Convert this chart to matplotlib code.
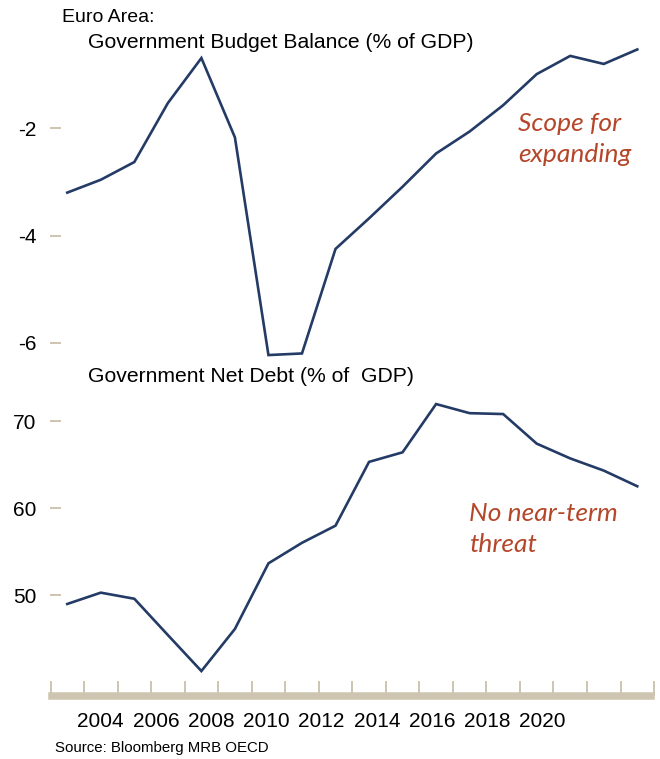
import numpy as np
import matplotlib
matplotlib.use('Agg')
import matplotlib.pyplot as plt

# data (euro area, % of GDP)
years = list(range(2003, 2021))
budget_balance = [-3.20, -2.96, -2.63, -1.53, -0.69, -2.17, -6.23, -6.20, -4.25,
                  -3.68, -3.09, -2.47, -2.06, -1.57, -0.99, -0.65, -0.80, -0.53]
net_debt = [48.97, 50.27, 49.57, 45.4, 41.26, 46.1, 53.64, 56.0, 57.97,
            65.3, 66.4, 71.95, 70.9, 70.8, 67.4, 65.7, 64.3, 62.5]
year_labels = ['2004', '2006', '2008', '2010', '2012', '2014', '2016', '2018', '2020']
budget_ticks = [-2, -4, -6]
debt_ticks = [50, 60, 70]

navy = '#243B66'
beige = '#CDC5B0'
rust = '#B4472A'

plt.rcParams['font.family'] = ['Liberation Sans', 'DejaVu Sans']

W, H = 660, 759
fig = plt.figure(figsize=(W / 100, H / 100), dpi=100)


def frac(x0, y0, x1, y1):
    # pixel box (top-left origin) -> figure fraction rect
    return [x0 / W, 1 - y1 / H, (x1 - x0) / W, (y1 - y0) / H]


xlim = (2002.5, 2020.6)
ax1 = fig.add_axes(frac(50.5, 42.5, 657.4, 361.5))
ax2 = fig.add_axes(frac(50.5, 394.9, 657.4, 695.5))

ax1.plot(years, budget_balance, color=navy, lw=1.9, solid_joinstyle='miter')
ax2.plot(years, net_debt, color=navy, lw=1.9, solid_joinstyle='miter')

ax1.set_xlim(*xlim)
ax1.set_ylim(-6.35, -0.4)
ax2.set_xlim(*xlim)
ax2.set_ylim(38.45, 73.0)

for ax in (ax1, ax2):
    for s in ['top', 'right', 'left', 'bottom']:
        ax.spines[s].set_visible(False)
    ax.tick_params(axis='y', direction='in', length=8, width=1.4, color=beige,
                   labelsize=15, pad=10)

ax1.set_yticks(budget_ticks)
ax1.set_yticklabels([str(t) for t in budget_ticks])
ax1.set_xticks([])

ax2.set_yticks(debt_ticks)
ax2.set_yticklabels([str(t) for t in debt_ticks])

# bottom band + year ticks
ax2.spines['bottom'].set_visible(True)
ax2.spines['bottom'].set_color(beige)
ax2.spines['bottom'].set_linewidth(5.4)
ax2.spines['bottom'].set_bounds(2002.55, 2020.42)
ax2.set_xticks(np.arange(2002.5, 2021, 1.0), minor=True)
ax2.tick_params(axis='x', which='minor', direction='in', length=10.8, width=1.4,
                color=beige)
label_pos = [2004 + i * 1.646 for i in range(len(year_labels))]
ax2.set_xticks(label_pos)
ax2.set_xticklabels(year_labels)
ax2.tick_params(axis='x', which='major', length=0, labelsize=15, pad=12)

# titles
fig.text(62 / W, 1 - 17 / H, 'Euro Area:', fontsize=14, va='center', ha='left')
fig.text(88 / W, 1 - 42 / H, 'Government Budget Balance (% of GDP)', fontsize=15.2,
         va='center', ha='left')
fig.text(88 / W, 1 - 377 / H, 'Government Net Debt (% of  GDP)', fontsize=15.2,
         va='center', ha='left')
fig.text(55 / W, 1 - 748 / H, 'Source: Bloomberg MRB OECD', fontsize=10.8,
         va='center', ha='left')

# annotations
fig.text(518 / W, 1 - 112 / H, 'Scope for\nexpanding', fontsize=19, color=rust,
         family=['Lato', 'DejaVu Sans'], style='italic', va='top', ha='left',
         linespacing=1.4)
fig.text(469 / W, 1 - 502 / H, 'No near-term\nthreat', fontsize=19, color=rust,
         family=['Lato', 'DejaVu Sans'], style='italic', va='top', ha='left',
         linespacing=1.4)

fig.savefig('out.png', dpi=100)
